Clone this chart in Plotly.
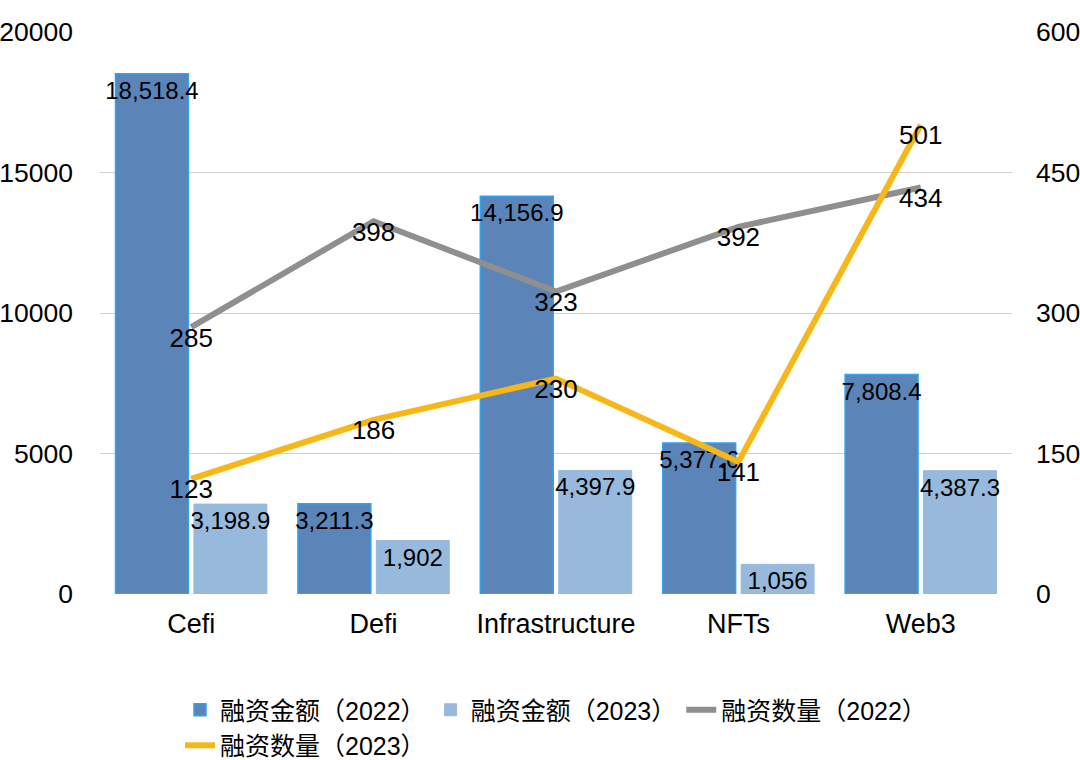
import plotly.graph_objects as go

categories = ["Cefi", "Defi", "Infrastructure", "NFTs", "Web3"]
amount_2022 = [18518.4, 3211.3, 14156.9, 5377.6, 7808.4]
amount_2023 = [3198.9, 1902, 4397.9, 1056, 4387.3]
count_2022 = [285, 398, 323, 392, 434]
count_2023 = [123, 186, 230, 141, 501]

def fmt(v):
    s = f"{v:,.1f}"
    return s[:-2] if s.endswith(".0") else s

FONT = "Liberation Sans, Arial, Noto Sans CJK SC, sans-serif"

fig = go.Figure()
fig.add_trace(go.Bar(
    x=categories, y=amount_2022, name="融资金额（2022）",
    marker=dict(color="#5b85b8", line=dict(color="#2ea3f2", width=1.5)),
    text=[fmt(v) for v in amount_2022], textposition="inside",
    insidetextanchor="end", textangle=0, constraintext="none",
    textfont=dict(color="black", size=24, family=FONT),
))
fig.add_trace(go.Bar(
    x=categories, y=amount_2023, name="融资金额（2023）",
    marker=dict(color="#97b9dc", line=dict(color="#97b9dc", width=1)),
    text=[fmt(v) for v in amount_2023], textposition="inside",
    insidetextanchor="end", textangle=0, constraintext="none",
    textfont=dict(color="black", size=24, family=FONT),
))
fig.add_trace(go.Scatter(
    x=categories, y=count_2022, name="融资数量（2022）", yaxis="y2",
    mode="lines+text", line=dict(color="#8f8f8f", width=6),
    text=[str(v) for v in count_2022], textposition="bottom center",
    textfont=dict(color="black", size=26, family=FONT),
))
fig.add_trace(go.Scatter(
    x=categories, y=count_2023, name="融资数量（2023）", yaxis="y2",
    mode="lines+text", line=dict(color="#f7b718", width=6),
    text=[str(v) for v in count_2023], textposition="bottom center",
    textfont=dict(color="black", size=26, family=FONT),
))

fig.update_layout(
    width=1080, height=760,
    margin=dict(l=100, r=68, t=32, b=166, autoexpand=False),
    paper_bgcolor="white", plot_bgcolor="white",
    font=dict(family=FONT, size=22, color="black"),
    barmode="group", bargap=0.14, bargroupgap=0.07,
    xaxis=dict(showgrid=False, showline=False, ticks="", automargin=False,
               tickfont=dict(size=27), ticklabelstandoff=11),
    yaxis=dict(range=[0, 20000], tickvals=[0, 5000, 10000, 15000, 20000],
               showgrid=True, gridcolor="#d0d0d0", gridwidth=1,
               zeroline=False, showline=False, tickfont=dict(size=26.5),
               automargin=False, tickformat="d", ticklabelstandoff=26),
    yaxis2=dict(range=[0, 600], tickvals=[0, 150, 300, 450, 600],
                overlaying="y", side="right", showgrid=False,
                zeroline=False, showline=False, tickfont=dict(size=26.5),
                automargin=False, ticklabelstandoff=23),
    legend=dict(orientation="h", x=0.5, xanchor="center", y=-0.1655,
                yanchor="top", font=dict(size=25, family=FONT),
                itemwidth=30, traceorder="normal"),
)

# remove the browser's default 8px body margin so the figure sits at (0, 0)
fig.write_html("out.html", config={"displayModeBar": False},
               post_script="document.body.style.margin='0';")
